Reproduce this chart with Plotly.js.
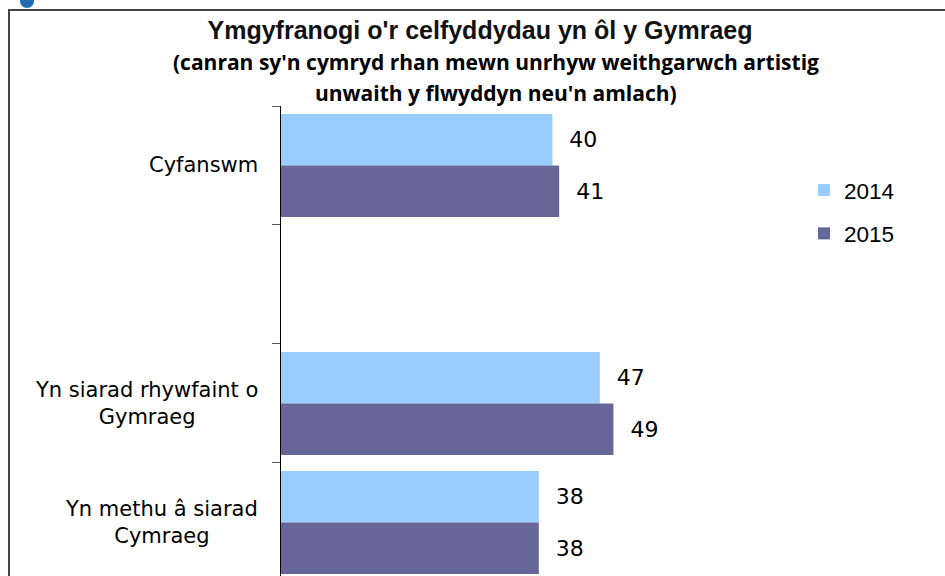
<!DOCTYPE html>
<html>
<head>
<meta charset="utf-8">
<script src="https://cdn.plot.ly/plotly-3.0.1.min.js"></script>
<style>
  html, body { margin: 0; padding: 0; background: #fff; }
  #wrap { position: relative; width: 945px; height: 576px; overflow: hidden; }
  #chart { position: absolute; left: 0; top: 0; width: 945px; height: 576px; }
  #frame { position: absolute; left: 8px; top: 9px; width: 960px; height: 600px;
           border-left: 2px solid #444; border-top: 2px solid #444; pointer-events: none; }
  #dot { position: absolute; left: 20px; top: -6px; width: 14px; height: 14px; border-radius: 50%; background: #1f6db0; }
</style>
</head>
<body>
<div id="wrap">
  <div id="chart"></div>
  <div id="frame"></div>
  <div id="dot"></div>
</div>
<script>
// Data
const categories = ["Cyfanswm", "", "Yn siarad rhywfaint o<br>Gymraeg", "Yn methu â siarad<br>Cymraeg"];
const catKeys = ["c0", "c1", "c2", "c3"];
const series2014 = [40, null, 47, 38];
const series2015 = [41, null, 49, 38];
const seriesNames = ["2014", "2015"];
const colors = ["#99CCFF", "#666699"];

const titleText = "Ymgyfranogi o'r celfyddydau yn ôl y Gymraeg";
const subtitle1 = "(canran sy'n cymryd rhan mewn unrhyw weithgarwch artistig";
const subtitle2 = "unwaith y flwyddyn neu'n amlach)";

const valFont = {family: "DejaVu Sans", size: 22, color: "#000"};

function mkTrace(vals, name, color, grp) {
  return {
    type: "bar", orientation: "h",
    y: catKeys, x: vals, name: name,
    marker: {color: color, line: {width: 0}},
    text: vals.map(v => v == null ? "" : String(v)),
    texttemplate: "\u00a0\u00a0%{text}",
    textposition: "outside",
    cliponaxis: false,
    constraintext: "none",
    textfont: valFont,
    legendgroup: grp,
    hoverinfo: "x+name"
  };
}

const traces = [
  mkTrace(series2014, seriesNames[0], colors[0], "g1"),
  mkTrace(series2015, seriesNames[1], colors[1], "g2")
];

const annotations = [];
categories.forEach((c, i) => {
  if (!c) return;
  annotations.push({
    xref: "paper", yref: "y", x: 0, y: catKeys[i],
    xanchor: "right", yanchor: "middle", xshift: -21, align: "center",
    text: c, showarrow: false,
    font: {family: "DejaVu Sans", size: 21, color: "#000"}
  });
});
annotations.push({
  xref: "paper", yref: "paper", x: 0.414, y: 1.0936, xanchor: "center", yanchor: "middle",
  text: "<b>" + subtitle1 + "</b>", showarrow: false,
  font: {family: "Open Sans", size: 21, color: "#000"}
});
annotations.push({
  xref: "paper", yref: "paper", x: 0.414, y: 1.027, xanchor: "center", yanchor: "middle",
  text: "<b>" + subtitle2 + "</b>", showarrow: false,
  font: {family: "Open Sans", size: 21, color: "#000"}
});

const layout = {
  width: 945, height: 576,
  margin: {l: 281, r: 145, t: 106, b: 0, pad: 0},
  paper_bgcolor: "rgba(0,0,0,0)", plot_bgcolor: "rgba(0,0,0,0)",
  title: {
    text: "<b>" + titleText + "</b>",
    x: 480/945, xanchor: "center", xref: "container",
    y: 1 - 30/576, yanchor: "middle", yref: "container",
    font: {family: "Liberation Sans", size: 25, color: "#111"}
  },
  barmode: "group", bargap: 0.134, bargroupgap: 0,
  xaxis: {range: [0, 76.5], visible: false, showgrid: false, zeroline: false, fixedrange: true},
  yaxis: {
    type: "category", categoryorder: "array", categoryarray: catKeys,
    range: [3.45, -0.5],
    showline: true, linecolor: "#000", linewidth: 1.5,
    ticks: "outside", tickson: "boundaries", ticklen: 8, tickcolor: "#555", tickwidth: 1,
    showticklabels: false, showgrid: false, zeroline: false
  },
  showlegend: true,
  legend: {
    x: 804/945, xref: "container", y: 1 - 169/576, yref: "container", xanchor: "left", yanchor: "top",
    orientation: "v", traceorder: "grouped", tracegroupgap: 11,
    font: {family: "Liberation Sans", size: 22.5, color: "#000"},
    bgcolor: "rgba(0,0,0,0)", itemclick: false
  },
  annotations: annotations
};

Plotly.newPlot("chart", traces, layout, {displayModeBar: false, staticPlot: true});
</script>
</body>
</html>
